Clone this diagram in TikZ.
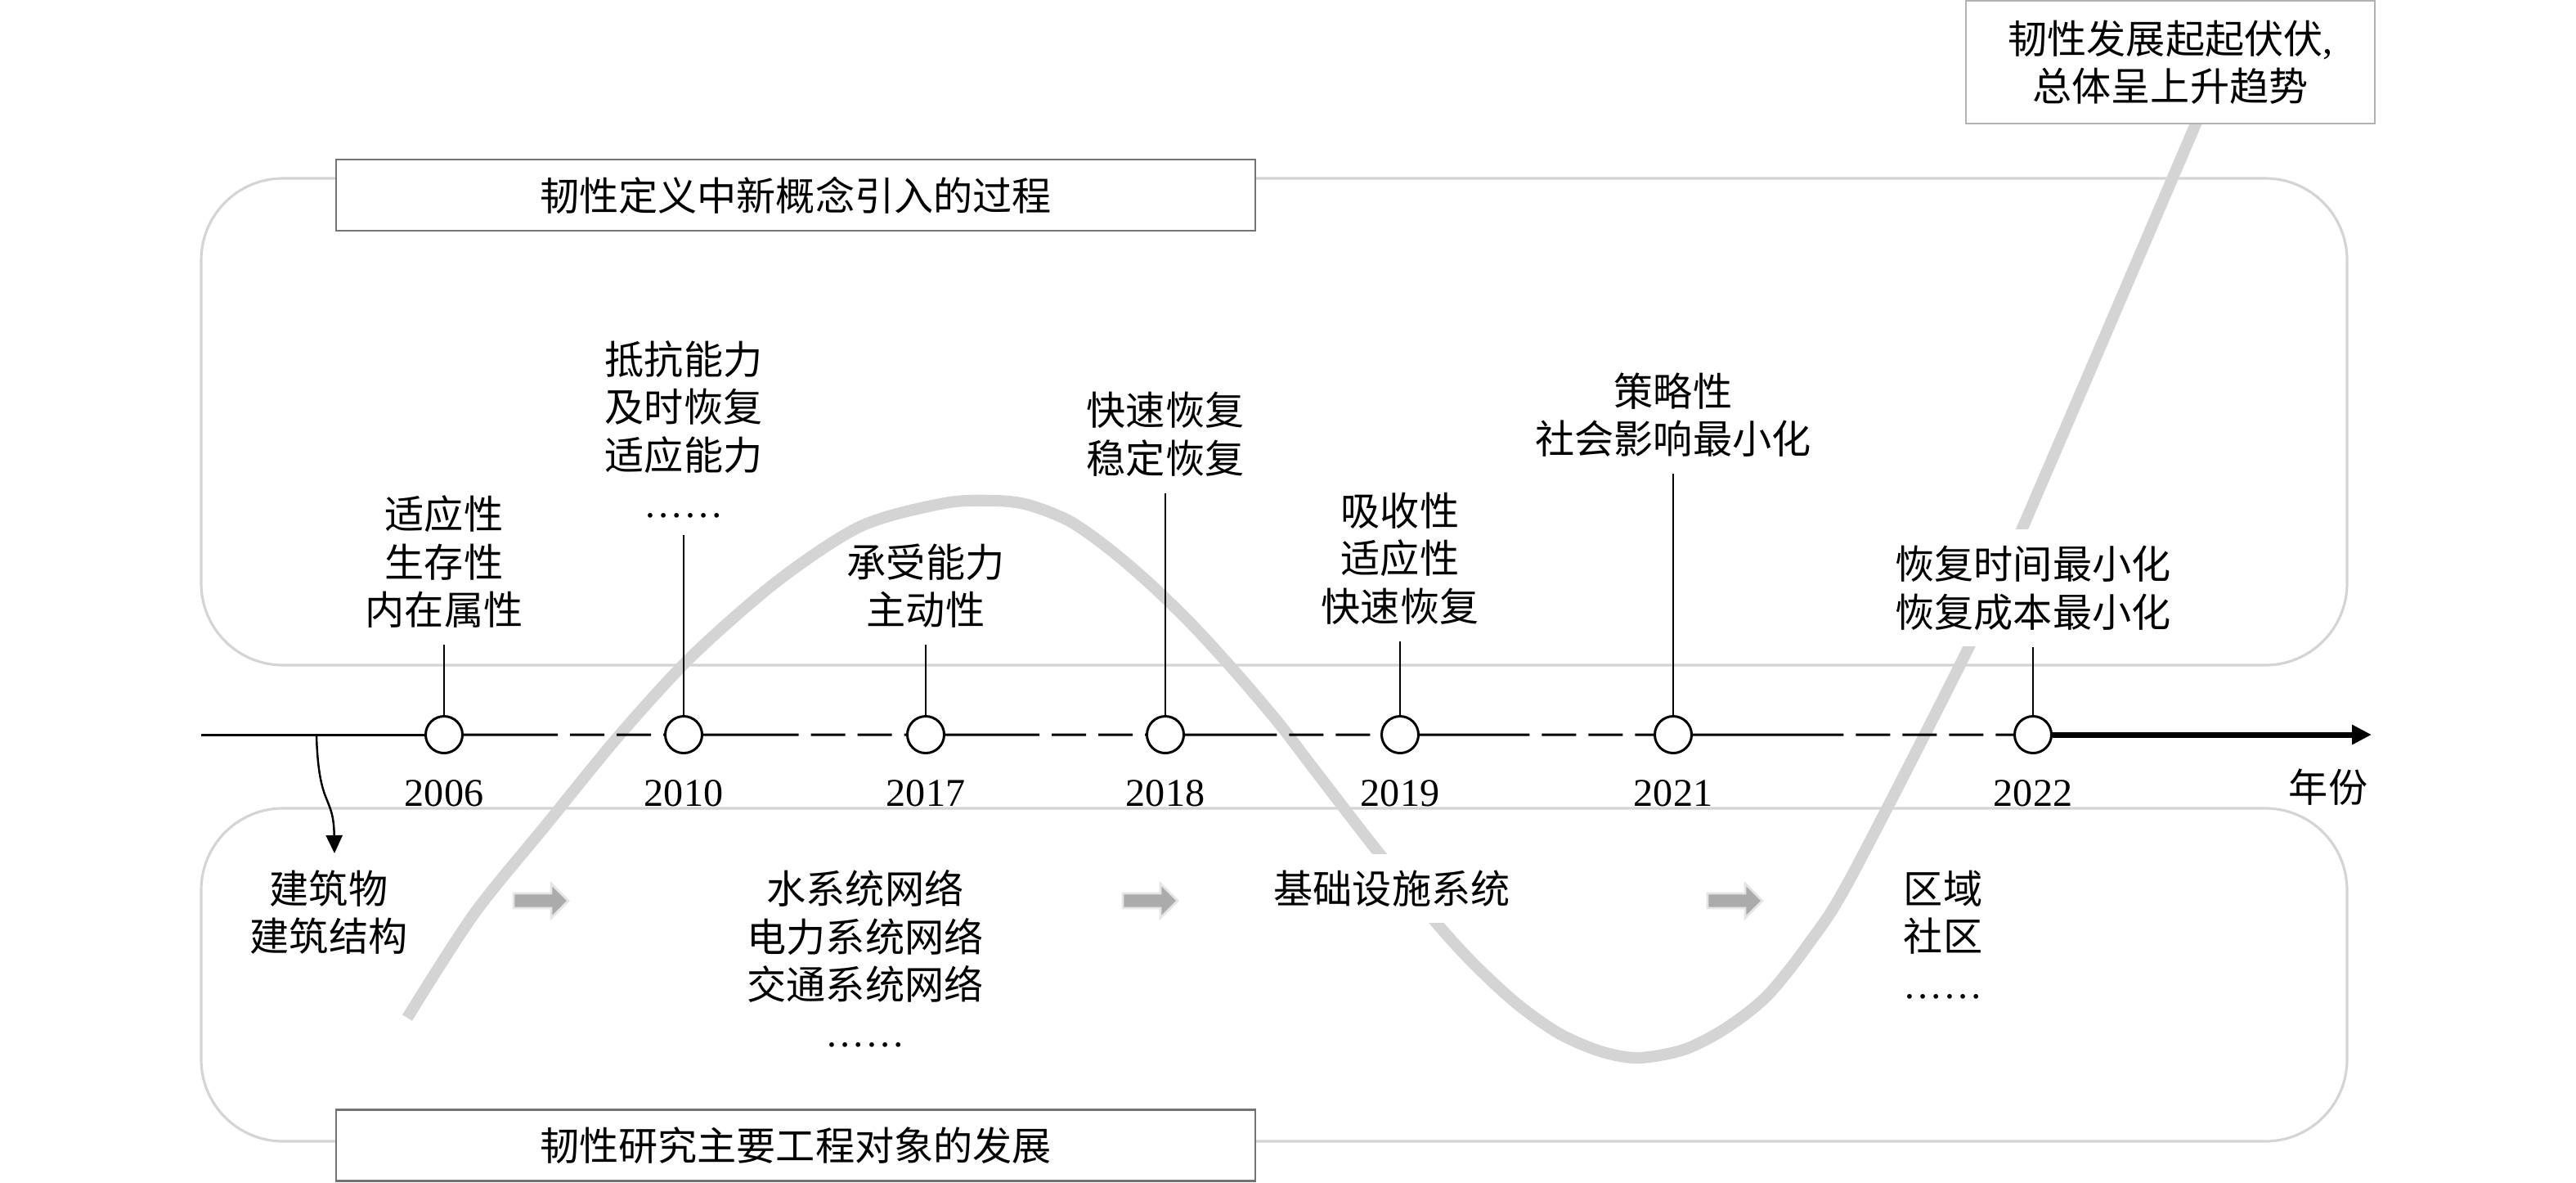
\documentclass[tikz,border=0pt]{standalone}
\usepackage{fontspec}
\setmainfont{Liberation Serif}
\newfontfamily\cjk{Noto Sans CJK SC}
\usetikzlibrary{positioning,arrows.meta,calc}

\tikzset{
  lbl/.style={font=\cjk\fontsize{13.7pt}{16.6pt}\selectfont, align=center, inner sep=0.2cm},
  gap/.style={lbl, fill=white},
  yrlbl/.style={font=\fontsize{13.7pt}{16.6pt}\selectfont, inner sep=0.16cm},
  dot/.style={circle, draw, line width=0.85pt, fill=white, minimum size=0.45cm, inner sep=0pt},
  stem/.style={line width=0.6pt},
  axis/.style={line width=0.85pt},
  panel/.style={draw=black!17, line width=0.9pt, rounded corners=1cm},
  titlebox/.style={lbl, draw=black!55, line width=0.8pt, fill=white, minimum width=11.24cm, minimum height=0.87cm},
  trend/.style={draw=black!17, line width=4pt},
}

\begin{document}
\begin{tikzpicture}
    \useasboundingbox (0,0) rectangle (31.5,-14.45);
    % two panels
    \draw [panel] (2.46,-2.18) rectangle (28.70,-8.13);
    \draw [panel] (2.46,-9.88) rectangle (28.70,-13.95);
    % trend curve
    \draw [trend] plot[smooth] coordinates {(4.98,-12.44) (5.79,-11.18) (6.68,-10.08) (7.57,-8.99) (8.46,-8.02) (9.51,-7.10) (10.53,-6.43) (11.55,-6.15) (12.16,-6.12) (12.57,-6.17) (13.08,-6.37) (13.59,-6.73) (14.10,-7.17) (14.61,-7.67) (15.12,-8.23) (15.63,-8.83) (16.09,-9.43) (16.84,-10.40) (17.58,-11.30) (18.04,-11.80) (18.55,-12.27) (19.06,-12.63) (19.57,-12.85) (20.03,-12.93) (20.59,-12.83) (21.10,-12.57) (21.61,-12.17) (22.12,-11.53) (22.63,-10.73) (24.07,-7.92) (24.75,-6.41) (27.07,-1.0)};
    \node [lbl, draw=black!30, line width=0.8pt, fill=white, minimum width=5.0cm, minimum height=1.5cm] (note) at (26.54,-0.76) {韧性发展起起伏伏{\rmfamily ,}\\总体呈上升趋势};
    \node [titlebox] (ttop) at (9.73,-2.385) {韧性定义中新概念引入的过程};
    \node [titlebox] (tbot) at (9.73,-14.0) {韧性研究主要工程对象的发展};
    % timeline
    \foreach \yy/\x in {2006/5.43, 2010/8.36, 2017/11.32, 2018/14.25, 2019/17.12, 2021/20.46, 2022/24.86} {
        \node [dot] (c\yy) at (\x,-8.98) {};
        \node [yrlbl, below=0.15cm of c\yy] (y\yy) {\yy};
    }
    \coordinate (a0) at (2.46,-8.98);
    \coordinate (aend) at (29.0,-8.98);
    \draw [axis] (a0) -- (c2006);
    \foreach \a/\b in {2006/2010, 2010/2017, 2017/2018, 2018/2019, 2019/2021, 2021/2022} {
        \draw [axis] (c\a) -- ($(c\a.east)!0.47!(c\b.west)$);
        \draw [axis, dash pattern=on 0.42cm off 0.15cm, dash phase=0.42cm] ($(c\a.east)!0.47!(c\b.west)$) -- (c\b);
    }
    \draw [line width=2pt, -{Triangle[length=0.24cm,width=0.23cm]}] (c2022) -- (aend);
    \node [lbl] (unit) at (28.47,-9.62) {年份};
    % concepts
    \node [lbl, above=0.86cm of c2006] (t2006) {适应性\\生存性\\内在属性};
    \node [lbl, above=2.2cm of c2010] (t2010) {抵抗能力\\及时恢复\\适应能力\\{\rmfamily ……}};
    \node [lbl, above=0.86cm of c2017] (t2017) {承受能力\\主动性};
    \node [lbl, above=2.71cm of c2018] (t2018) {快速恢复\\稳定恢复};
    \node [lbl, above=0.9cm of c2019] (t2019) {吸收性\\适应性\\快速恢复};
    \node [lbl, above=2.95cm of c2021] (t2021) {策略性\\社会影响最小化};
    \node [gap, above=0.83cm of c2022] (t2022) {恢复时间最小化\\恢复成本最小化};
    \foreach \yy in {2006,2010,2017,2018,2019,2021,2022}
        \draw [stem] (c\yy) -- (t\yy);
    % objects
    \node [lbl, anchor=north] (build) at (4.02,-10.43) {建筑物\\建筑结构};
    \node [lbl, anchor=north] (water) at (10.58,-10.43) {水系统网络\\电力系统网络\\交通系统网络\\{\rmfamily ……}};
    \node [gap, anchor=north] (infra) at (17.02,-10.43) {基础设施系统};
    \node [lbl, anchor=north] (area) at (23.76,-10.43) {区域\\社区\\{\rmfamily ……}};
    \coordinate (dstart) at (3.87,-9.0);
    \draw [line width=0.7pt, -{Triangle[length=0.22cm,width=0.2cm]}] (dstart) .. controls (3.9,-9.9) and (4.08,-9.7) .. ([xshift=0.07cm]build.north);
    \foreach \x in {6.28,13.73,20.88}
        \draw [fill=black!33, draw=black!10, line width=0.8pt] (\x,-10.92) -- ({\x+0.46},-10.92) -- ({\x+0.46},-10.80) -- ({\x+0.67},-11.01) -- ({\x+0.46},-11.22) -- ({\x+0.46},-11.10) -- (\x,-11.10) -- cycle;
\end{tikzpicture}
\end{document}
